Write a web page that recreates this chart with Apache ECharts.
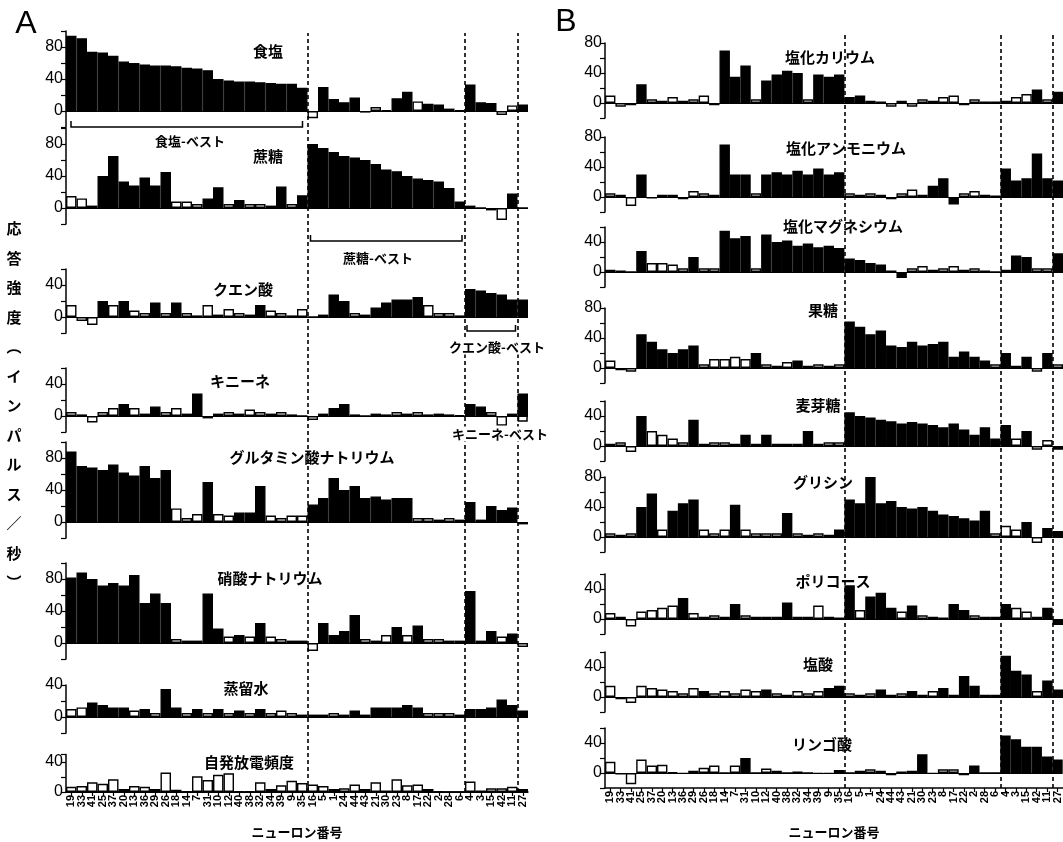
<!DOCTYPE html>
<html><head><meta charset="utf-8">
<script src="https://cdn.jsdelivr.net/npm/echarts@6/dist/echarts.min.js"></script>
<style>html,body{margin:0;padding:0;background:#fff}#c{width:1063px;height:842px}</style>
</head><body><div id="c"></div>
<script>
// ---------- DATA ----------
const neurons = ['19','33','41','25','37','20','13','36','29','26','18','14','7','31','10','12','40','38','32','34','39','9','35','16','5','1','24','44','43','21','30','23','8','17','22','2','28','6','4','3','15','42','11','27'];
const groupSizes = [23, 15, 5, 1];

const namesA = ['食塩','蔗糖','クエン酸','キニーネ','グルタミン酸ナトリウム','硝酸ナトリウム','蒸留水','自発放電頻度'];
const namesB = ['塩化カリウム','塩化アンモニウム','塩化マグネシウム','果糖','麦芽糖','グリシン','ポリコース','塩酸','リンゴ酸'];

// fill: 1 = filled (black) bar, 0 = open bar
const A1_vals = [94,91,74,73,69,62,60,58,57,57,56,54,53,51,40,38,37,37,36,35,34,34,29, -9,30,15,11,17,-2,5,1,16,24,12,9,8,3,1, 33,11,10,-5,7,8];
const A1_fill = [1,1,1,1,1,1,1,1,1,1,1,1,1,1,1,1,1,1,1,1,1,1,1, 0,1,1,1,1,0,0,0,1,1,0,1,1,1,0, 1,1,1,0,0,1];
const A2_vals = [15,12,3,40,65,33,28,38,28,45,8,8,5,12,26,5,10,5,5,3,27,5,16, 80,75,70,65,63,60,55,48,46,40,37,35,33,25,8, 3,0,-3,-15,18,0];
const A2_fill = [0,0,0,1,1,1,1,1,1,1,0,0,0,1,1,0,1,0,0,0,1,0,1, 1,1,1,1,1,1,1,1,1,1,1,1,1,1,1, 0,0,0,0,1,0];
const A3_vals = [15,-5,-10,20,15,20,8,5,18,5,18,5,2,15,3,10,5,3,15,8,5,2,10, 0,3,28,20,5,3,12,18,22,22,25,15,5,5,2, 35,33,30,28,22,22];
const A3_fill = [0,0,0,1,0,1,0,0,1,0,1,0,0,0,0,0,0,0,1,0,0,0,0, 0,0,1,1,0,0,1,1,1,1,1,0,0,0,0, 1,1,1,1,1,1];
const A4_vals = [5,2,-8,5,10,15,10,3,12,5,10,3,28,-3,3,5,3,8,5,3,5,2,0, -5,3,10,15,2,0,3,2,5,3,5,2,3,2,1, 15,12,5,-12,3,28];
const A4_fill = [0,0,0,0,0,1,0,0,1,0,0,0,1,0,0,0,0,0,0,0,0,0,0, 0,0,1,1,0,0,0,0,0,0,0,0,0,0,0, 1,1,0,0,0,1];
const A5_vals = [88,70,68,65,72,62,58,70,55,65,17,5,10,50,10,8,12,12,45,8,5,8,8, 22,30,55,40,45,30,32,28,30,30,5,5,3,5,3, 25,3,20,15,18,-3];
const A5_fill = [1,1,1,1,1,1,1,1,1,1,0,0,0,1,0,0,1,1,1,0,0,0,0, 1,1,1,1,1,1,1,1,1,1,0,0,0,0,0, 1,0,1,1,1,0];
const A6_vals = [82,88,80,72,75,72,85,50,62,50,5,3,3,62,18,8,10,8,25,8,5,3,3, -10,25,10,15,35,5,3,10,20,10,22,5,5,3,3, 65,3,15,8,12,-5];
const A6_fill = [1,1,1,1,1,1,1,1,1,1,0,0,0,1,1,0,1,0,1,0,0,0,0, 0,1,1,1,1,0,0,0,1,0,1,0,0,0,0, 1,0,1,0,1,0];
const A7_vals = [10,12,18,15,12,12,8,10,5,35,12,5,10,5,10,5,8,5,10,5,8,5,3, 3,3,5,3,8,3,12,12,12,15,12,5,5,5,3, 10,10,12,22,15,8];
const A7_fill = [0,0,1,1,1,1,0,1,0,1,1,0,1,0,1,0,1,0,1,0,0,0,0, 0,0,0,0,1,0,1,1,1,1,1,0,0,0,0, 1,1,1,1,1,1];
const A8_vals = [7,8,13,11,17,4,8,7,4,26,3,1,21,16,23,25,1,1,13,4,9,15,12, 10,8,4,5,10,4,13,2,17,9,10,4,1,0,0, 14,2,5,5,7,4];
const A8_fill = [0,0,0,0,0,0,0,0,0,0,0,0,0,0,0,0,0,0,0,0,0,0,0, 0,0,0,0,0,0,0,0,0,0,0,0,0,0,0, 0,0,0,0,0,0];

const B1_vals = [10,-5,-3,25,5,3,8,3,5,10,-3,70,35,50,5,30,38,43,40,5,38,35,38, 8,10,3,2,-5,3,-5,5,3,8,10,-3,5,2,2, 3,8,12,18,5,15];
const B1_fill = [0,0,0,1,0,0,0,0,0,0,0,1,1,1,0,1,1,1,1,0,1,1,1, 1,1,0,0,0,0,0,0,0,0,0,0,0,0,0, 0,0,0,1,0,1];
const B2_vals = [5,3,-12,30,-2,3,3,-3,8,5,3,70,30,30,5,30,33,30,35,30,38,30,33, 5,3,5,3,-3,5,10,3,15,25,-10,5,8,3,2, 38,22,25,58,25,22];
const B2_fill = [0,0,0,1,0,0,0,0,0,0,0,1,1,1,0,1,1,1,1,1,1,1,1, 0,0,0,0,0,0,0,0,1,1,1,0,0,0,0, 1,1,1,1,1,1];
const B3_vals = [3,2,0,28,12,12,10,5,20,5,5,55,45,48,5,50,40,42,35,38,33,35,32, 18,16,12,10,2,-8,5,8,3,5,8,3,5,2,0, 3,22,20,5,5,25];
const B3_fill = [0,0,0,1,0,0,0,0,1,0,0,1,1,1,0,1,1,1,1,1,1,1,1, 1,1,1,1,0,1,0,0,0,0,0,0,0,0,0, 0,1,1,0,0,1];
const B4_vals = [10,-3,-5,45,35,25,20,25,30,5,12,12,15,12,20,5,3,8,10,3,5,3,5, 62,55,45,50,30,28,35,30,32,35,15,22,15,10,5, 20,3,15,-5,20,5];
const B4_fill = [0,0,0,1,1,1,1,1,1,0,0,0,0,0,1,0,0,0,1,0,0,0,0, 1,1,1,1,1,1,1,1,1,1,1,1,1,1,0, 1,0,1,0,1,0];
const B5_vals = [3,5,-8,40,20,15,10,5,35,3,5,5,3,15,3,15,3,3,3,20,3,5,5, 45,40,38,35,33,30,32,30,28,25,30,22,15,25,10, 28,10,20,-5,8,-5];
const B5_fill = [0,0,0,1,0,0,0,0,1,0,0,0,0,1,0,1,0,0,0,1,0,0,0, 1,1,1,1,1,1,1,1,1,1,1,1,1,1,1, 1,0,1,0,0,1];
const B6_vals = [5,3,5,40,58,10,35,45,50,10,5,10,43,10,5,5,5,32,5,3,5,3,10, 50,45,80,45,48,40,38,40,35,30,28,25,22,35,5, 15,10,20,-8,12,8];
const B6_fill = [0,0,0,1,1,0,1,1,1,0,0,0,1,0,0,0,0,1,0,0,0,0,1, 1,1,1,1,1,1,1,1,1,1,1,1,1,1,0, 0,0,1,0,1,1];
const B7_vals = [8,3,-10,10,12,15,18,28,8,3,5,3,20,5,3,3,3,22,3,3,18,3,2, 45,12,30,35,15,10,18,5,3,2,20,12,5,3,3, 20,15,10,3,15,-8];
const B7_fill = [0,0,0,0,0,0,0,1,0,0,0,0,1,0,0,0,0,1,0,0,0,0,0, 1,0,1,1,1,0,1,0,0,0,1,1,0,0,0, 1,0,0,0,1,1];
const B8_vals = [15,-3,-8,15,12,10,8,5,12,8,5,8,5,10,8,10,5,3,8,5,8,12,15, 5,3,5,10,3,5,8,3,8,12,3,28,15,3,3, 55,35,30,8,22,10];
const B8_fill = [0,0,0,0,0,0,0,0,0,1,0,0,0,0,0,1,0,0,0,0,0,1,1, 0,0,0,1,0,0,1,0,0,1,0,1,1,0,0, 1,1,1,0,1,1];
const B9_vals = [15,-2,-15,18,10,11,1,-1,3,7,10,0,10,20,0,6,3,0,2,0,-1,-1,4, 0,3,5,3,-3,2,3,25,-1,5,5,-3,10,0,0, 50,45,35,35,22,18];
const B9_fill = [0,0,0,0,0,0,0,0,0,0,0,0,0,1,0,0,0,0,0,0,0,0,0, 0,0,0,0,0,0,0,1,0,0,0,0,1,0,0, 1,1,1,1,1,1];

// ---------- LAYOUT ----------
const colA = {left: 66, width: 462, scale: 0.8, lineTop: 33, lineBottom: 792,
  plots: [
    {zero:111, min:-20, max:100, tx:268, ty:51},
    {zero:208, min:-20, max:100, tx:268, ty:156},
    {zero:317, min:-20, max:60,  tx:243, ty:289},
    {zero:416, min:-20, max:60,  tx:240, ty:381},
    {zero:522, min:-20, max:100, tx:312, ty:457},
    {zero:643, min:-20, max:100, tx:270, ty:578},
    {zero:717, min:-20, max:40,  tx:246, ty:688},
    {zero:792, min:0,   max:50,  tx:249, ty:762, scale:0.75, bottom:true}
  ]};
const colB = {left: 605, width: 458, scale: 0.75, lineTop: 33, lineBottom: 788,
  plots: [
    {zero:103, min:-20, max:80, tx:830, ty:57},
    {zero:197, min:-20, max:80, tx:846, ty:148},
    {zero:272, min:-20, max:60, tx:843, ty:226},
    {zero:368, min:-20, max:80, tx:823, ty:310},
    {zero:446, min:-20, max:60, tx:818, ty:405},
    {zero:537, min:-20, max:80, tx:823, ty:482},
    {zero:619, min:-20, max:60, tx:833, ty:581},
    {zero:697, min:-20, max:60, tx:818, ty:664},
    {zero:773, min:-20, max:60, tx:822, ty:744, bottom:true}
  ]};

const dataA = [[A1_vals,A1_fill],[A2_vals,A2_fill],[A3_vals,A3_fill],[A4_vals,A4_fill],[A5_vals,A5_fill],[A6_vals,A6_fill],[A7_vals,A7_fill],[A8_vals,A8_fill]];
const dataB = [[B1_vals,B1_fill],[B2_vals,B2_fill],[B3_vals,B3_fill],[B4_vals,B4_fill],[B5_vals,B5_fill],[B6_vals,B6_fill],[B7_vals,B7_fill],[B8_vals,B8_fill],[B9_vals,B9_fill]];

const bounds = [];
groupSizes.slice(0, -1).reduce((acc, g) => { bounds.push(acc + g); return acc + g; }, 0);

const JP = '"Noto Sans CJK JP", sans-serif';
const grids = [], xAxes = [], yAxes = [], series = [], titles = [];

function addPlot(col, p, vals, fill, name) {
  const idx = grids.length;
  const s = p.scale || col.scale;
  grids.push({left: col.left, width: col.width, top: p.zero - p.max * s, height: (p.max - p.min) * s});
  const bottom = !!p.bottom;
  xAxes.push({type: 'category', gridIndex: idx, data: neurons, boundaryGap: true, position: 'bottom',
    axisLine: {show: bottom, onZero: false, lineStyle: {color: '#000', width: 1.5}},
    axisTick: {show: bottom, alignWithLabel: true, length: 4, lineStyle: {color: '#000', width: 1.2}},
    axisLabel: {show: bottom, rotate: 90, interval: 0, fontSize: 11, fontWeight: 'bold', fontFamily: 'Liberation Sans', color: '#000', margin: 3},
    splitLine: {show: false}});
  yAxes.push({type: 'value', gridIndex: idx, min: p.min, max: p.max, interval: 20,
    axisLine: {show: true, lineStyle: {color: '#000', width: 1.5}},
    axisTick: {show: true, length: 5, lineStyle: {color: '#000', width: 1.2}},
    axisLabel: {fontSize: 16, fontFamily: 'Liberation Sans', color: '#000', margin: 3,
      formatter: v => (v >= 0 && v % 40 === 0) ? String(v) : ''},
    splitLine: {show: false}});
  series.push({type: 'bar', xAxisIndex: idx, yAxisIndex: idx, barCategoryGap: '0%', animation: false,
    data: vals.map((v, i) => ({value: v, itemStyle: {color: fill[i] ? '#000' : '#fff'}})),
    itemStyle: {borderColor: '#000', borderWidth: 1.4},
    markLine: {silent: true, symbol: 'none', label: {show: false}, animation: false,
      lineStyle: {color: '#000', width: 1, type: 'solid'}, data: [{yAxis: 0}]}});
  titles.push({type: 'text', x: p.tx, y: p.ty, z: 100,
    style: {text: name, font: 'bold 15px ' + JP, fill: '#000', align: 'center', verticalAlign: 'middle', textAlign: 'center', textVerticalAlign: 'middle'}});
}
colA.plots.forEach((p, i) => addPlot(colA, p, dataA[i][0], dataA[i][1], namesA[i]));
colB.plots.forEach((p, i) => addPlot(colB, p, dataB[i][0], dataB[i][1], namesB[i]));

// overlay grids for group-boundary dashed lines
function addOverlay(col) {
  const idx = grids.length;
  grids.push({left: col.left, width: col.width, top: col.lineTop, height: col.lineBottom - col.lineTop});
  xAxes.push({type: 'value', gridIndex: idx, min: 0, max: neurons.length, show: false});
  yAxes.push({type: 'value', gridIndex: idx, min: 0, max: 1, show: false});
  series.push({type: 'line', xAxisIndex: idx, yAxisIndex: idx, animation: false, silent: true,
    data: bounds.map(b => [b, 0]), showSymbol: false, lineStyle: {width: 0, opacity: 0},
    markLine: {silent: true, symbol: 'none', label: {show: false}, animation: false,
      lineStyle: {color: '#000', width: 1.6, type: [4, 3]}, data: bounds.map(b => ({xAxis: b}))}});
  return idx;
}
const ovA = addOverlay(colA);
const ovB = addOverlay(colB);

const chart = echarts.init(document.getElementById('c'));
chart.setOption({animation: false, backgroundColor: '#fff', grid: grids, xAxis: xAxes, yAxis: yAxes, series: series});

// ---------- annotations ----------
const px = (ov, v) => chart.convertToPixel({xAxisIndex: ov}, v);
const cum = [0].concat(bounds).concat([neurons.length]);
function bracket(ov, g0, g1, y, inset, label, ty, tx, bg) {
  const x0 = px(ov, g0) + inset, x1 = px(ov, g1) - inset;
  const out = [{type: 'polyline', z: 100, shape: {points: [[x0, y - 6], [x0, y], [x1, y], [x1, y - 6]]},
    style: {stroke: '#000', lineWidth: 1.5, fill: null}}];
  const st = {text: label, font: 'bold 13px ' + JP, fill: '#000', align: 'center', verticalAlign: 'middle', textAlign: 'center', textVerticalAlign: 'middle'};
  if (bg) { st.backgroundColor = '#fff'; st.padding = [1, 2]; }
  out.push({type: 'text', z: 101, x: tx != null ? tx : (x0 + x1) / 2, y: ty, style: st});
  return out;
}
const g = [].concat(titles);
g.push(...bracket(ovA, cum[0], cum[1], 127, 5, '食塩-ベスト', 141, 190));
g.push(...bracket(ovA, cum[1], cum[2], 241, 3, '蔗糖-ベスト', 258, 378));
g.push(...bracket(ovA, cum[2], cum[3], 331, 2, 'クエン酸-ベスト', 347, 497, true));
g.push(...bracket(ovA, cum[3], cum[4], 421, 1, 'キニーネ-ベスト', 434, 500, true));
g.push({type: 'text', x: 26, y: 24, style: {text: 'A', font: '32px "Liberation Sans"', fill: '#000', align: 'center', verticalAlign: 'middle', textAlign: 'center', textVerticalAlign: 'middle'}});
g.push({type: 'text', x: 566, y: 22, style: {text: 'B', font: '32px "Liberation Sans"', fill: '#000', align: 'center', verticalAlign: 'middle', textAlign: 'center', textVerticalAlign: 'middle'}});
g.push({type: 'text', x: 14, y: 214, style: {text: '応\n答\n強\n度\n︵\nイ\nン\nパ\nル\nス\n／\n秒\n︶', font: 'bold 15px ' + JP, lineHeight: 29.5, fill: '#000', align: 'center', verticalAlign: 'top', textAlign: 'center', textVerticalAlign: 'top'}});
g.push({type: 'text', x: (colA.left + colA.left + colA.width) / 2, y: 832, style: {text: 'ニューロン番号', font: 'bold 13px ' + JP, fill: '#000', align: 'center', verticalAlign: 'middle', textAlign: 'center', textVerticalAlign: 'middle'}});
g.push({type: 'text', x: (colB.left + colB.left + colB.width) / 2, y: 832, style: {text: 'ニューロン番号', font: 'bold 13px ' + JP, fill: '#000', align: 'center', verticalAlign: 'middle', textAlign: 'center', textVerticalAlign: 'middle'}});
chart.setOption({graphic: g});
</script></body></html>
